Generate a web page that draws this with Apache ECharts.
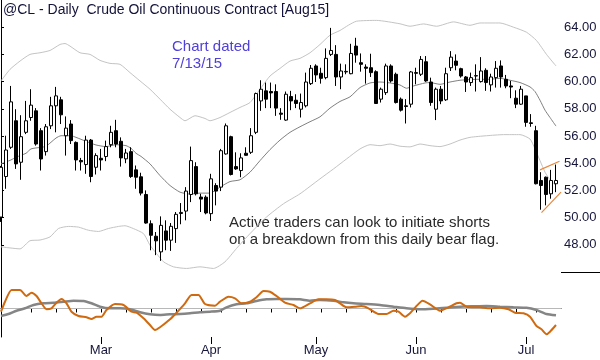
<!DOCTYPE html>
<html><head><meta charset="utf-8">
<script src="https://cdn.jsdelivr.net/npm/echarts@6/dist/echarts.min.js"></script>
<style>html,body{margin:0;padding:0;background:#fff}#c{width:600px;height:360px}</style>
</head><body><div id="c"></div>
<script>
// Trading days (2015), last one is an empty pad slot
var dates = ["1/30","2/2","2/3","2/4","2/5","2/6","2/9","2/10","2/11","2/12","2/13","2/17","2/18","2/19","2/20","2/23","2/24","2/25","2/26","2/27",
"3/2","3/3","3/4","3/5","3/6","3/9","3/10","3/11","3/12","3/13","3/16","3/17","3/18","3/19","3/20","3/23","3/24","3/25","3/26","3/27","3/30","3/31",
"4/1","4/2","4/6","4/7","4/8","4/9","4/10","4/13","4/14","4/15","4/16","4/17","4/20","4/21","4/22","4/23","4/24","4/27","4/28","4/29","4/30",
"5/1","5/4","5/5","5/6","5/7","5/8","5/11","5/12","5/13","5/14","5/15","5/18","5/19","5/20","5/21","5/22","5/26","5/27","5/28","5/29",
"6/1","6/2","6/3","6/4","6/5","6/8","6/9","6/10","6/11","6/12","6/15","6/16","6/17","6/18","6/19","6/22","6/23","6/24","6/25","6/26","6/29","6/30",
"7/1","7/2","7/6","7/7","7/8","7/9","7/10",""];
var monthNames = ["Jan","Feb","Mar","Apr","May","Jun","Jul","Aug"];
var priceTicks = [48,50,52,54,56,58,60,62,64];

var open = [50.04,53.02,55.17,57.12,54.07,56.27,57.36,57.85,56.39,54.85,56.75,58.22,58.66,56.02,56.88,55.53,54.2,53.9,55.7,53.7,
54.36,54.49,55.36,56.39,55.61,54.32,54.85,53.51,53.0,51.7,49.55,48.63,47.48,49.02,48.34,49.19,50.3,50.48,51.7,53.75,51.51,51.5,
50.29,52.36,52.24,54.68,55.95,53.75,53.46,54.73,54.8,56.27,58.58,59.32,59.27,59.27,57.68,57.17,58.9,58.63,57.97,58.22,59.85,
61.15,60.61,60.29,62.0,62.0,60.34,60.71,60.58,62.61,61.39,61.07,61.02,60.73,58.71,59.19,61.15,60.54,58.71,58.22,58.34,
60.66,60.54,61.46,59.97,57.97,59.44,58.66,61.02,61.51,60.95,60.34,59.93,60.41,60.0,60.83,59.76,60.29,61.15,60.17,59.68,58.78,58.34,
58.95,56.97,56.39,52.73,52.97,51.75,52.49];
var high = [53.8,56.02,59.68,57.97,57.53,58.58,59.44,58.05,56.58,56.88,58.88,59.61,58.88,57.44,57.17,55.6,54.39,56.02,55.78,54.73,
55.05,55.66,56.75,57.19,55.9,55.05,55.17,53.83,53.3,52.0,49.8,48.94,50.09,49.8,49.6,50.41,51.07,52.24,55.22,54.07,51.75,51.63,
53.22,52.53,55.05,56.92,56.02,54.8,54.73,55.17,56.58,59.19,60.1,59.93,59.93,59.8,58.05,59.27,59.32,59.07,59.12,60.66,61.22,
61.27,61.02,62.44,63.95,62.68,61.32,61.27,62.78,63.22,62.07,61.27,62.05,60.83,59.56,61.32,61.27,60.66,58.83,58.71,60.78,
61.02,61.88,61.88,60.29,59.56,59.68,61.02,62.24,62.0,61.02,60.41,60.66,61.27,61.8,60.98,60.58,61.51,61.56,60.49,60.05,59.36,59.68,
58.95,57.61,56.75,53.34,53.02,53.51,53.9];
var low = [49.68,52.12,55.05,53.58,52.78,56.14,57.12,55.29,53.46,54.56,56.51,56.27,56.88,54.56,55.41,53.46,53.46,53.22,52.6,53.17,
53.46,54.15,55.17,55.17,53.75,54.0,52.92,52.12,51.63,49.55,47.6,47.24,46.82,47.6,47.55,48.14,49.51,49.8,51.14,51.63,50.41,50.24,
49.75,50.9,51.95,54.63,53.1,53.51,52.97,54.56,54.68,56.14,57.85,58.05,58.05,57.48,57.19,57.12,57.9,58.05,57.36,58.1,59.75,
59.97,59.85,60.17,61.88,59.68,59.44,60.54,60.54,61.39,60.73,59.85,60.34,58.39,58.46,59.02,59.93,58.39,57.8,56.92,58.1,
59.8,60.41,59.98,58.22,57.17,58.34,58.58,60.78,60.83,60.29,59.24,59.68,59.27,59.93,59.32,59.27,59.56,59.56,59.51,58.78,58.05,58.29,
56.68,56.68,52.44,50.58,50.9,51.39,51.87];
var close = [53.70,54.97,58.51,53.95,55.95,57.12,58.27,55.41,54.31,56.68,58.22,58.95,57.56,56.58,55.66,54.24,54.1,55.7,53.02,54.56,
54.24,55.22,56.27,55.41,54.39,54.75,53.02,52.97,51.8,49.6,48.7,48.29,49.43,48.34,49.36,50.24,50.38,51.95,54.19,51.75,51.36,50.34,
52.85,51.95,54.92,56.75,53.17,53.58,54.39,54.58,56.02,59.12,59.44,58.71,59.17,58.05,57.6,59.07,58.58,58.39,58.46,59.97,60.98,
60.49,60.24,61.71,62.29,60.34,60.78,60.75,62.07,61.95,61.27,60.98,60.66,58.39,59.44,61.15,60.05,58.46,57.9,58.17,60.71,
60.61,61.63,60.05,58.46,59.44,58.58,60.58,61.8,61.2,60.41,59.97,60.29,60.44,60.78,59.93,60.34,60.98,60.34,59.68,59.6,58.34,59.44,
57.0,56.92,52.49,52.36,51.7,52.73,52.73];

// [bar position, value]
var smaLine = [[0,53.95],[2,54.24],[3,54.44],[5,54.73],[6,55.05],[8,55.17],[9,55.24],[11,55.85],[12,56.02],[14,56.02],[15,55.9],[17,55.61],[19,55.34],[21,55.22],[23,55.36],[25,55.29],[26,55.1],[27,54.73],[28,54.5],[29.8,53.95],[31.8,53.09],[33.8,52.36],[35.8,51.87],[37.8,51.73],[39.8,51.8],[41.8,51.8],[43.8,52.24],[45.8,52.65],[47.8,52.78],[49.8,53.34],[51.8,54.19],[53.8,55.0],[55.8,55.7],[57.8,56.27],[59.8,56.68],[61.8,57.05],[63.8,57.41],[65.8,58.05],[67.8,58.54],[69.8,58.88],[71.8,59.56],[73.8,59.9],[75.8,59.97],[77.8,59.9],[79.8,59.75],[81.1,59.51],[82.5,59.68],[84.8,59.9],[85.8,59.93],[87.8,59.8],[89.8,59.97],[91.8,60.1],[93.8,60.15],[95.8,60.17],[97.8,60.17],[99.8,60.24],[101.8,60.1],[103.8,59.93],[105.8,59.61],[106.8,59.27],[107.8,58.63],[108.8,57.9],[109.8,57.36],[111,56.73]];
var upperBand = [[0,60.05],[1.8,60.9],[3.8,61.51],[5.8,62.0],[7.8,62.12],[9.8,62.29],[11.8,62.73],[12.8,62.8],[13.8,62.61],[15.8,62.12],[17.8,62.0],[19.8,61.56],[21.8,61.34],[23.8,61.27],[25.8,60.66],[27.8,60.05],[29.8,59.44],[31.8,58.71],[33.8,57.97],[35.8,57.36],[36.8,57.12],[38.8,57.49],[40.8,57.29],[41.8,57.12],[43.8,57.36],[45.8,57.73],[47.8,58.1],[49.8,58.46],[51.8,59.44],[53.8,60.41],[55.8,60.97],[57.8,61.51],[59.8,61.71],[61.8,62.12],[63.8,62.73],[65.8,63.41],[67.8,63.76],[69.5,64.15],[71.1,64.44],[75.1,64.5],[79.8,64.25],[81.8,64.07],[84.5,64.24],[87.1,64.07],[90.5,64.39],[93.8,64.14],[95.8,64.31],[99.8,64.31],[102.5,64.0],[105.1,63.63],[107.1,63.02],[109.1,62.0],[111,61.15]];
var lowerBand = [[0,47.85],[1.8,47.77],[3.8,47.7],[5.8,48.3],[7.8,48.35],[9.8,48.58],[11.5,49.2],[13.5,49.35],[15.5,49.3],[17.5,49.07],[19.5,48.98],[21.5,49.2],[23.5,49.35],[24.8,49.4],[26.5,49.19],[28.5,48.82],[29.8,47.97],[31.1,47.36],[32.5,46.75],[34.5,46.38],[37.1,46.26],[39.8,46.38],[42.5,46.26],[44.8,46.75],[47.1,47.73],[49.8,48.82],[53.1,50.04],[56.5,51.02],[59.8,51.75],[63.8,52.85],[66.5,53.58],[69.1,54.31],[71.8,55.05],[73.8,55.36],[75.8,55.29],[77.8,55.41],[79.8,55.25],[81.8,55.2],[83.8,55.41],[85.8,55.29],[87.8,55.22],[89.8,55.41],[91.8,55.7],[93.8,55.9],[97.1,56.02],[100.5,56.1],[103.8,56.1],[105.8,55.78],[106.8,55.05],[107.8,54.19],[108.8,53.34],[109.8,52.78],[111,52.36]];
var flagUpper = [[107.8,53.51],[111.7,54.14]];
var flagLower = [[108.1,50.36],[112,51.87]];

var oscFast = [[0,-3.2],[0.8,6.8],[2.1,18.5],[3.8,18.5],[5.1,12.5],[6.1,15.8],[7.1,12.5],[8.1,5.2],[9.1,-0.8],[10.1,0.2],[11.1,5.8],[12.1,9.5],[13.1,5.2],[14.1,-3.2],[15.5,-7.5],[17.1,-8.8],[18.1,-10.5],[19.1,-8.2],[20.1,-8.2],[21.1,-1.5],[22.8,4.5],[24.5,3.5],[26.1,-3.2],[27.1,-4.2],[28.5,-9.8],[29.8,-16.5],[30.8,-21.5],[31.8,-18.8],[33.8,-10.8],[35.1,-4.2],[36.8,5.2],[38.1,13.5],[39.5,13.5],[40.8,4.5],[42.8,2.8],[43.8,6.8],[45.5,11.8],[46.8,10.2],[48.1,5.2],[49.8,6.8],[51.1,11.2],[52.5,17.5],[53.8,16.8],[55.1,12.5],[56.8,5.8],[58.5,3.5],[59.8,0.2],[61.8,5.2],[63.5,9.2],[65.1,9.2],[66.8,8.5],[67.8,5.2],[69.1,1.2],[70.8,1.8],[72.1,2.5],[73.5,0.2],[75.5,-5.5],[77.1,-5.5],[78.5,-2.2],[79.5,-3.2],[80.8,-8.2],[81.8,-4.8],[83.1,2.5],[84.3,7.8],[85.8,4.2],[87.8,-2.2],[89.5,1.2],[91.1,5.2],[91.8,5.8],[93.1,1.8],[95.8,1.2],[97.8,0.2],[99.8,0.8],[101.5,-0.8],[102.8,-4.2],[104.5,-4.8],[105.8,-8.2],[107.1,-17.5],[108.1,-20.8],[109.1,-25.8],[109.8,-23.2],[111,-16.5]];
var oscSlow = [[0,-7.5],[1.5,-5.5],[3.1,-2.2],[4.8,0.2],[6.5,3.5],[8.5,5.2],[10.5,5.8],[12.5,6.8],[14.5,7.8],[16.5,7.5],[18.1,5.2],[19.8,1.8],[21.8,0.2],[23.8,0.2],[25.8,-0.8],[27.8,-3.8],[29.8,-5.8],[31.8,-6.5],[33.8,-5.8],[35.8,-5.5],[37.8,-4.8],[39.8,-3.8],[41.8,-3.2],[43.8,-2.2],[45.1,1.2],[47.1,4.2],[49.1,5.2],[51.1,7.5],[53.1,9.2],[55.1,9.5],[57.1,9.5],[59.8,9.2],[61.8,7.8],[63.8,8.5],[66.5,7.8],[68.5,6.2],[70.5,5.2],[73.1,4.5],[75.8,3.5],[78.5,1.8],[81.1,0.2],[83.8,-0.8],[86.5,-0.2],[89.1,0.8],[91.8,1.8],[94.5,2.2],[97.1,2.5],[99.8,1.8],[102.5,1.2],[105.1,0.8],[107.1,-1.5],[109.1,-5.5],[111,-6.8]];
var oscZero = [[0,0],[112,0]];

var md = dates.map(function(s){ if(!s) return null; var p=s.split('/'); return {m:+p[0], d:+p[1], dow:new Date(2015,+p[0]-1,+p[1]).getDay()}; });
function isMonthStart(i){ return i>2 && md[i] && md[i-1] && md[i].m!==md[i-1].m; }
function isWeekStart(i){ return i>2 && md[i] && md[i-1] && md[i].dow < md[i-1].dow; }

var candles = open.map(function(o,i){ return [o, close[i], low[i], high[i]]; });
var FONT = 'Liberation Sans, Arial, sans-serif';

var chart = echarts.init(document.getElementById('c'), null, {renderer:'canvas'});
chart.setOption({
  animation:false,
  backgroundColor:'#fff',
  grid:[{left:1, width:560, top:-1, height:273},{left:1, width:560, top:272, height:65}],
  xAxis:[
    {type:'category', gridIndex:0, data:dates, boundaryGap:false, show:false},
    {type:'value', gridIndex:0, min:0, max:112, show:false},
    {type:'category', gridIndex:1, data:dates, boundaryGap:false, position:'bottom',
      axisLine:{show:true, lineStyle:{color:'#000', width:1}},
      axisTick:{show:true, length:4, lineStyle:{color:'#000'}, interval:function(i){return isWeekStart(i);}},
      axisLabel:{show:false}, splitLine:{show:false}},
    {type:'category', gridIndex:1, data:dates, boundaryGap:false, position:'bottom', offset:0,
      axisLine:{show:false},
      axisTick:{show:true, length:7, lineStyle:{color:'#000'}, interval:function(i){return isMonthStart(i);}},
      axisLabel:{show:true, margin:7, fontSize:13, fontFamily:FONT, color:'#16163c',
        interval:function(i){return isMonthStart(i);},
        formatter:function(v){ var p=v.split('/'); return monthNames[+p[0]-1]; }},
      splitLine:{show:false}},
    {type:'value', gridIndex:1, min:0, max:112, show:false}
  ],
  yAxis:[
    {type:'value', gridIndex:0, position:'right', min:46, max:66, interval:2, scale:true,
      axisLine:{show:true, lineStyle:{color:'#000', width:1}},
      axisTick:{show:true, length:3, lineStyle:{color:'#000'}},
      axisLabel:{show:true, margin:3, fontSize:13, fontFamily:FONT, color:'#16163c',
        showMinLabel:false, showMaxLabel:false,
        formatter:function(v){ return priceTicks.indexOf(v)>=0 ? v.toFixed(2) : ''; }},
      splitLine:{show:false}},
    {type:'value', gridIndex:1, position:'right', min:-28.5, max:36.5,
      axisLine:{show:true, lineStyle:{color:'#000', width:1}},
      axisTick:{show:false}, axisLabel:{show:false}, splitLine:{show:false}}
  ],
  series:[
    {type:'line', xAxisIndex:1, yAxisIndex:0, data:upperBand, showSymbol:false, smooth:0.2, lineStyle:{color:'#c4c4c4', width:1}, z:1},
    {type:'line', xAxisIndex:1, yAxisIndex:0, data:lowerBand, showSymbol:false, smooth:0.2, lineStyle:{color:'#c4c4c4', width:1}, z:1},
    {type:'line', xAxisIndex:1, yAxisIndex:0, data:smaLine, showSymbol:false, smooth:0.2, lineStyle:{color:'#808080', width:1}, z:2},
    {type:'candlestick', xAxisIndex:0, yAxisIndex:0, data:candles, barWidth:3, clip:false,
      itemStyle:{color:'#fff', color0:'#000', borderColor:'#000', borderColor0:'#000', borderWidth:1}, z:3},
    {type:'line', xAxisIndex:1, yAxisIndex:0, data:flagUpper, showSymbol:false, lineStyle:{color:'#e8883c', width:1.2}, z:4},
    {type:'line', xAxisIndex:1, yAxisIndex:0, data:flagLower, showSymbol:false, lineStyle:{color:'#e8883c', width:1.2}, z:4},
    {type:'line', xAxisIndex:4, yAxisIndex:1, data:oscZero, showSymbol:false, lineStyle:{color:'#b8b8b8', width:1}, z:1},
    {type:'line', xAxisIndex:4, yAxisIndex:1, data:oscSlow, showSymbol:false, smooth:0.2, lineStyle:{color:'#858585', width:2.5}, z:2},
    {type:'line', xAxisIndex:4, yAxisIndex:1, data:oscFast, showSymbol:false, smooth:0.2, lineStyle:{color:'#d06a10', width:2}, z:3}
  ],
  graphic:[
    {type:'line', shape:{x1:561, y1:272.5, x2:600, y2:272.5}, style:{stroke:'#000', lineWidth:1}},
    {type:'text', left:3, top:3, style:{text:'@CL - Daily  Crude Oil Continuous Contract [Aug15]', font:'14px '+FONT, fill:'#12123a'}},
    {type:'text', left:172, top:39, style:{text:'Chart dated', font:'15px '+FONT, fill:'#5040d8'}},
    {type:'text', left:172, top:56, style:{text:'7/13/15', font:'15px '+FONT, fill:'#5040d8'}},
    {type:'text', left:229, top:215, style:{text:'Active traders can look to initiate shorts', font:'15px '+FONT, fill:'#2a2a2a'}},
    {type:'text', left:229, top:232, style:{text:'on a breakdown from this daily bear flag.', font:'15px '+FONT, fill:'#2a2a2a'}}
  ]
});
</script></body></html>
